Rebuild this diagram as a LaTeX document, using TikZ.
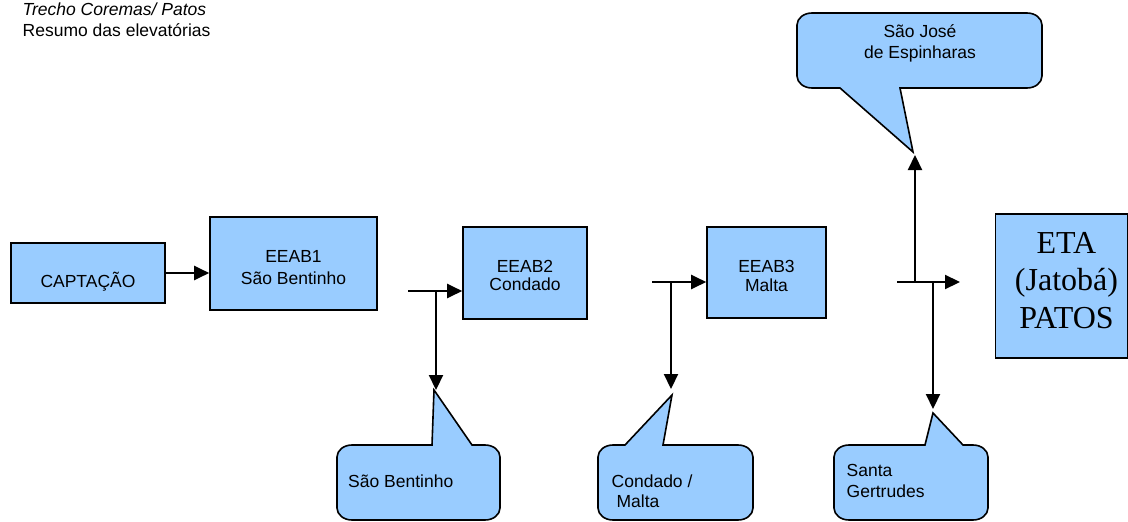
\documentclass[tikz,border=0pt]{standalone}
\usepackage{fontspec}
\setmainfont{Liberation Sans}
\newfontfamily\etafont{Liberation Serif}
\usetikzlibrary{arrows.meta}
\definecolor{boxblue}{HTML}{99CCFF}
\begin{document}
\begin{tikzpicture}[x=1pt,y=-1pt,
  boxst/.style={draw=black, fill=boxblue, line width=1.6pt, inner sep=0pt, rectangle},
  callst/.style={draw=black, fill=boxblue, line width=1.6pt},
  arr/.style={line width=2.2pt, -{Triangle[length=15pt,width=14pt]}},
  txt/.style={inner sep=0pt, font=\fontsize{17.5}{20}\selectfont},
  etatxt/.style={inner sep=0pt, font=\etafont\fontsize{32}{37}\selectfont}]
\useasboundingbox (0,0) rectangle (1128,522);

% title
\node[txt, anchor=base west, font=\itshape\fontsize{17.5}{20}\selectfont] (t1) at (22.5,15.5) {Trecho Coremas/ Patos};
\node[txt, anchor=base west] (t2) at (22.5,36.5) {Resumo das elevatórias};

% boxes
\node[boxst, minimum width=154pt, minimum height=60pt] (capt) at (88,273) {};
\node[txt, anchor=base] (captT) at (88,287.5) {CAPTAÇÃO};

\node[boxst, minimum width=167pt, minimum height=93pt] (e1) at (293.5,263.5) {};
\node[txt, anchor=base] (e1a) at (293.5,262) {EEAB1};
\node[txt, anchor=base] (e1b) at (293.5,284) {São Bentinho};

\node[boxst, minimum width=124pt, minimum height=92pt] (e2) at (525,273) {};
\node[txt, anchor=base] (e2a) at (525,272) {EEAB2};
\node[txt, anchor=base] (e2b) at (525,290) {Condado};

\node[boxst, minimum width=119pt, minimum height=91pt] (e3) at (766.5,272.5) {};
\node[txt, anchor=base] (e3a) at (766.5,272) {EEAB3};
\node[txt, anchor=base] (e3b) at (766.5,291) {Malta};

\node[boxst, minimum width=132pt, minimum height=144pt] (eta) at (1061.5,286) {};
\node[etatxt, anchor=base] (etaa) at (1066.5,253) {ETA};
\node[etatxt, anchor=base] (etab) at (1066.5,290.5) {(Jatobá)};
\node[etatxt, anchor=base] (etac) at (1066.5,328) {PATOS};

% callouts (wedge up)
\draw[callst] (337,457) arc[start angle=180,end angle=270,x radius=15,y radius=12]
  -- (432,445) -- (434,390) coordinate (tipA) -- (472,445) -- (485,445)
  arc[start angle=270,end angle=360,x radius=15,y radius=12] -- (500,508)
  arc[start angle=0,end angle=90,x radius=15,y radius=12] -- (352,520)
  arc[start angle=90,end angle=180,x radius=15,y radius=12] -- cycle;
\node[txt, anchor=base west] (cA) at (348,487) {São Bentinho};

\draw[callst] (598,457) arc[start angle=180,end angle=270,x radius=15,y radius=12]
  -- (625,445) -- (672,395) coordinate (tipB) -- (663,445) -- (738,445)
  arc[start angle=270,end angle=360,x radius=15,y radius=12] -- (753,508)
  arc[start angle=0,end angle=90,x radius=15,y radius=12] -- (613,520)
  arc[start angle=90,end angle=180,x radius=15,y radius=12] -- cycle;
\node[txt, anchor=base west] (cB1) at (611.5,487) {Condado /};
\node[txt, anchor=base west] (cB2) at (611.5,507) {\ Malta};

\draw[callst] (834,457) arc[start angle=180,end angle=270,x radius=15,y radius=12]
  -- (925,445) -- (933,413) coordinate (tipC) -- (963,445) -- (973,445)
  arc[start angle=270,end angle=360,x radius=15,y radius=12] -- (988,508)
  arc[start angle=0,end angle=90,x radius=15,y radius=12] -- (849,520)
  arc[start angle=90,end angle=180,x radius=15,y radius=12] -- cycle;
\node[txt, anchor=base west] (cC1) at (846.5,476) {Santa};
\node[txt, anchor=base west] (cC2) at (846.5,497) {Gertrudes};

% callout (wedge down)
\draw[callst] (797,25) arc[start angle=180,end angle=270,x radius=15,y radius=12]
  -- (1027,13) arc[start angle=270,end angle=360,x radius=15,y radius=12]
  -- (1042,76) arc[start angle=0,end angle=90,x radius=15,y radius=12]
  -- (900,88) -- (913,152) coordinate (tipD) -- (840,88) -- (812,88)
  arc[start angle=90,end angle=180,x radius=15,y radius=12] -- cycle;
\node[txt, anchor=base] (cD1) at (920,37.5) {São José};
\node[txt, anchor=base] (cD2) at (920,58.5) {de Espinharas};

% connectors
\draw[arr] (capt.east) -- (e1.west |- capt.east);

\coordinate (jA0) at (408,291);
\coordinate (jA) at (436,291);
\coordinate (endA) at (436,390);
\draw[arr] (jA0) -- (e2.west |- jA0);
\draw[arr] (jA) -- (endA);

\coordinate (jB0) at (652,282);
\coordinate (jB) at (671,282);
\coordinate (endB) at (671,389);
\draw[arr] (jB0) -- (e3.west |- jB0);
\draw[arr] (jB) -- (endB);

\coordinate (jC0) at (897,282);
\coordinate (jCu) at (915,282);
\coordinate (jCd) at (933,282);
\coordinate (endETA) at (960,282);
\coordinate (endD) at (915,155);
\coordinate (endC) at (933,409);
\draw[arr] (jC0) -- (endETA);
\draw[arr] (jCu) -- (endD);
\draw[arr] (jCd) -- (endC);
\end{tikzpicture}
\end{document}
